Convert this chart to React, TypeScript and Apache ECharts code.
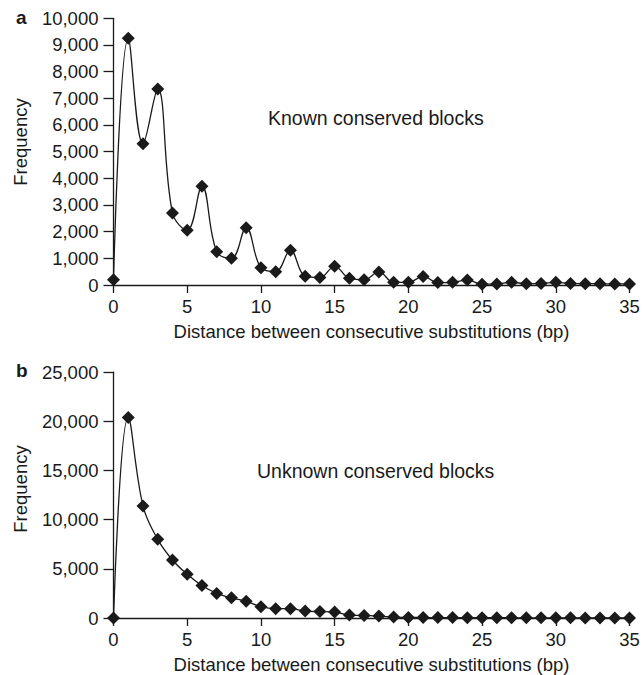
import React, { useEffect, useRef } from "react";
import * as echarts from "echarts";

const distances = [0, 1, 2, 3, 4, 5, 6, 7, 8, 9, 10, 11, 12, 13, 14, 15, 16, 17, 18, 19, 20, 21, 22, 23, 24, 25, 26, 27, 28, 29, 30, 31, 32, 33, 34, 35];
const knownFreq = [200, 9250, 5300, 7350, 2700, 2050, 3700, 1250, 1000, 2150, 650, 500, 1300, 330, 280, 700, 250, 200, 490, 100, 100, 320, 90, 100, 190, 30, 40, 100, 50, 60, 100, 60, 50, 50, 40, 40];
const unknownFreq = [0, 20400, 11400, 8000, 5900, 4450, 3300, 2500, 2050, 1700, 1150, 950, 950, 700, 650, 600, 300, 250, 200, 100, 50, 50, 40, 40, 30, 30, 30, 20, 20, 20, 20, 20, 10, 10, 10, 10];
const xTickInterval = 5;
const xMax = 35;
const knownMax = 10000;
const knownInterval = 1000;
const unknownMax = 25000;
const unknownInterval = 5000;
const xTitle = "Distance between consecutive substitutions (bp)";
const yTitle = "Frequency";
const knownLabel = "Known conserved blocks";
const unknownLabel = "Unknown conserved blocks";

const FONT = "'Liberation Sans', Arial, Helvetica, sans-serif";
const INK = "#1a1a1a";

export default function App() {
  const ref = useRef<HTMLDivElement>(null);
  useEffect(() => {
    if (!ref.current) return;
    const chart = echarts.init(ref.current, null, { renderer: "svg" });
    const fmt = (v: number) => v.toLocaleString("en-US");
    const xAxisBase = (gridIndex: number) => ({
      type: "value",
      gridIndex,
      min: 0,
      max: xMax,
      interval: xTickInterval,
      name: xTitle,
      nameLocation: "middle",
      nameGap: 37,
      nameTextStyle: { fontFamily: FONT, fontSize: 18.5, color: INK },
      axisLine: { show: true, lineStyle: { color: INK, width: 1.3 } },
      axisTick: { show: true, inside: false, length: 8, lineStyle: { color: INK, width: 1.3 } },
      axisLabel: { fontFamily: FONT, fontSize: 18.5, color: INK, margin: 12 },
      splitLine: { show: false },
    });
    const yAxisBase = (gridIndex: number, max: number, interval: number) => ({
      type: "value",
      gridIndex,
      min: 0,
      max,
      interval,
      axisLine: { show: true, lineStyle: { color: INK, width: 1.3 } },
      axisTick: { show: true, inside: false, length: 10, lineStyle: { color: INK, width: 1.3 } },
      axisLabel: { fontFamily: FONT, fontSize: 18.5, color: INK, margin: 15, formatter: fmt },
      splitLine: { show: false },
    });
    const seriesBase = (idx: number, values: number[]) => ({
      type: "line",
      xAxisIndex: idx,
      yAxisIndex: idx,
      data: distances.map((d, i) => [d, values[i]]),
      smooth: 0.4,
      symbol: "diamond",
      symbolSize: 13,
      showSymbol: true,
      lineStyle: { color: INK, width: 1.3 },
      itemStyle: { color: INK },
      z: 3,
    });
    chart.setOption({
      animation: false,
      grid: [
        { left: 113.5, top: 18.3, width: 516, height: 266.7, containLabel: false },
        { left: 113.5, top: 372.2, width: 516, height: 246.3, containLabel: false },
      ],
      xAxis: [xAxisBase(0), xAxisBase(1)],
      yAxis: [yAxisBase(0, knownMax, knownInterval), yAxisBase(1, unknownMax, unknownInterval)],
      series: [seriesBase(0, knownFreq), seriesBase(1, unknownFreq)],
      graphic: [
        { type: "text", left: 16, top: 8, style: { text: "a", font: `bold 19px ${FONT}`, fill: INK } },
        { type: "text", left: 16, top: 361, style: { text: "b", font: `bold 19px ${FONT}`, fill: INK } },
        {
          type: "text", x: 20, y: 142, rotation: Math.PI / 2,
          style: { text: yTitle, font: `18.5px ${FONT}`, fill: INK, align: "center", verticalAlign: "middle" },
        },
        {
          type: "text", x: 20, y: 489, rotation: Math.PI / 2,
          style: { text: yTitle, font: `18.5px ${FONT}`, fill: INK, align: "center", verticalAlign: "middle" },
        },
        {
          type: "text", x: 268, y: 117.5,
          style: { text: knownLabel, font: `19.5px ${FONT}`, fill: INK, align: "left", verticalAlign: "middle" },
        },
        {
          type: "text", x: 257, y: 471,
          style: { text: unknownLabel, font: `19.5px ${FONT}`, fill: INK, align: "left", verticalAlign: "middle" },
        },
      ],
    });
    return () => chart.dispose();
  }, []);
  return (
    <div
      ref={ref}
      style={{ position: "fixed", left: 0, top: 0, width: 644, height: 675, background: "#fff" }}
    />
  );
}
